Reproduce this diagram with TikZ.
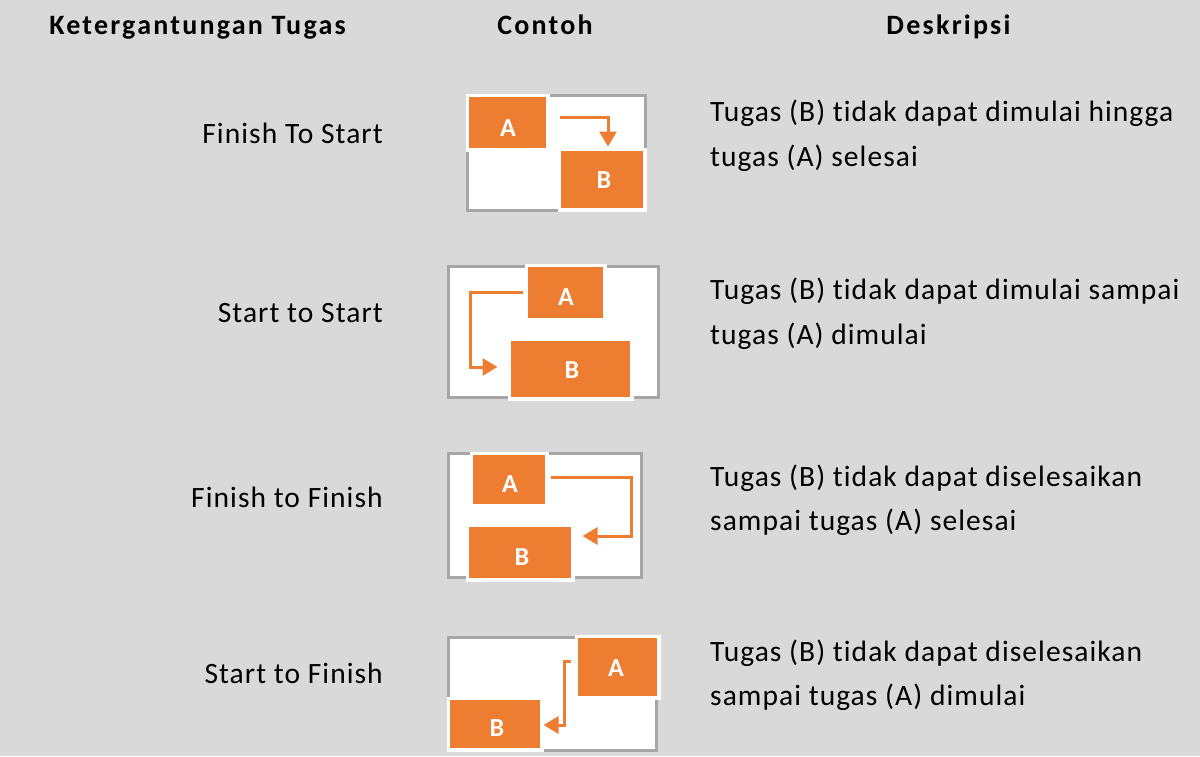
\documentclass[tikz,border=0pt]{standalone}
\usepackage{fontspec}
\setmainfont{Carlito}
\newfontfamily\bodyfont{Carlito}[LetterSpace=3.6, Ligatures=NoCommon]
\newfontfamily\headfont{Carlito}[LetterSpace=8, Ligatures=NoCommon]
\usetikzlibrary{arrows.meta}
\definecolor{bg}{HTML}{D9D9D9}
\definecolor{frameg}{HTML}{A6A6A6}
\definecolor{taskor}{HTML}{ED7D31}

\begin{document}
\begin{tikzpicture}[x=1pt,y=-1pt,
  head/.style={font=\headfont\fontsize{28}{32}\selectfont\bfseries, anchor=base, inner sep=0pt},
  kind/.style={font=\bodyfont\fontsize{29.5}{34}\selectfont, anchor=base east, inner sep=0pt},
  desc/.style={font=\bodyfont\fontsize{29.5}{34}\selectfont, anchor=base west, inner sep=0pt},
  frame/.style={draw=frameg, fill=white, line width=3pt},
  taskbox/.style={draw=white, fill=taskor, line width=3.5pt, inner sep=0pt},
  letter/.style={font=\fontsize{26}{30}\selectfont\bfseries, text=white, inner sep=0pt},
  link/.style={draw=taskor, line width=3pt, -{Triangle[width=17pt,length=15pt]}}]

% canvas
\fill[bg] (0,0) rectangle (1200,756);
\useasboundingbox (0,0) rectangle (1200,756);

% column headings
\node[head] (h1) at (197.5,34) {Ketergantungan Tugas};
\node[head] (h2) at (545,34) {Contoh};
\node[head] (h3) at (948.5,34) {Deskripsi};

% dependency names
\node[kind] (k1) at (383,143) {Finish To Start};
\node[kind] (k2) at (383,322) {Start to Start};
\node[kind] (k3) at (383,507) {Finish to Finish};
\node[kind] (k4) at (383,683) {Start to Finish};

% descriptions
\node[desc] (d1a) at (710,121) {Tugas (B) tidak dapat dimulai hingga};
\node[desc] (d1b) at (710,166) {tugas (A) selesai};
\node[desc] (d2a) at (710,299) {Tugas (B) tidak dapat dimulai sampai};
\node[desc] (d2b) at (710,344) {tugas (A) dimulai};
\node[desc] (d3a) at (710,486) {Tugas (B) tidak dapat diselesaikan};
\node[desc] (d3b) at (710,530) {sampai tugas (A) selesai};
\node[desc] (d4a) at (710,661) {Tugas (B) tidak dapat diselesaikan};
\node[desc] (d4b) at (710,705) {sampai tugas (A) dimulai};

% example 1: finish to start
\draw[frame] (467.5,95.5) rectangle (645.5,210.5);
\node[taskbox, minimum width=80.5pt, minimum height=54.5pt] (A1) at (507.5,122.5) {};
\node[taskbox, minimum width=85.5pt, minimum height=60.5pt] (B1) at (602,179.5) {};
\node[letter] (A1t) at (508,128.5) {A};
\node[letter] (B1t) at (604,180.5) {B};
\draw[link] ([xshift=10pt,yshift=5.5pt]A1.east) -| ([xshift=6pt,yshift=1pt]B1.north);

% example 2: start to start
\draw[frame] (448.5,266.5) rectangle (658.5,397.5);
\node[taskbox, minimum width=78.5pt, minimum height=54.5pt] (A2) at (565.5,292.5) {};
\node[taskbox, minimum width=122.5pt, minimum height=59.5pt] (B2) at (570.5,369) {};
\node[letter] (A2t) at (566,297) {A};
\node[letter] (B2t) at (572,370.5) {B};
\draw[link] ([xshift=-2pt]A2.west) -| ([xshift=-37.25pt,yshift=2pt]B2.west)
  -- ([xshift=-10pt,yshift=2pt]B2.west);

% example 3: finish to finish
\draw[frame] (448.5,453.5) rectangle (641.5,577.5);
\node[taskbox, minimum width=75.5pt, minimum height=52.5pt] (A3) at (509,479.5) {};
\node[taskbox, minimum width=105.5pt, minimum height=54.5pt] (B3) at (520,552.5) {};
\node[letter] (A3t) at (510,484.5) {A};
\node[letter] (B3t) at (522,557) {B};
\draw[link] ([xshift=2pt,yshift=2.5pt]A3.east) -| ([xshift=57.25pt,yshift=16.5pt]B3.east)
  -- ([xshift=8pt,yshift=16.5pt]B3.east);

% example 4: start to finish
\draw[frame] (448.5,637.5) rectangle (656.5,750.5);
\node[taskbox, minimum width=82.5pt, minimum height=61.5pt] (A4) at (617.5,667) {};
\node[taskbox, minimum width=93.5pt, minimum height=51.5pt] (B4) at (495,724) {};
\node[letter] (A4t) at (616,668.5) {A};
\node[letter] (B4t) at (497,728.5) {B};
\draw[link] ([xshift=-4pt,yshift=6pt]A4.west) -- ++(-6,0) |- ([yshift=-1pt]B4.east);
\end{tikzpicture}
\end{document}
